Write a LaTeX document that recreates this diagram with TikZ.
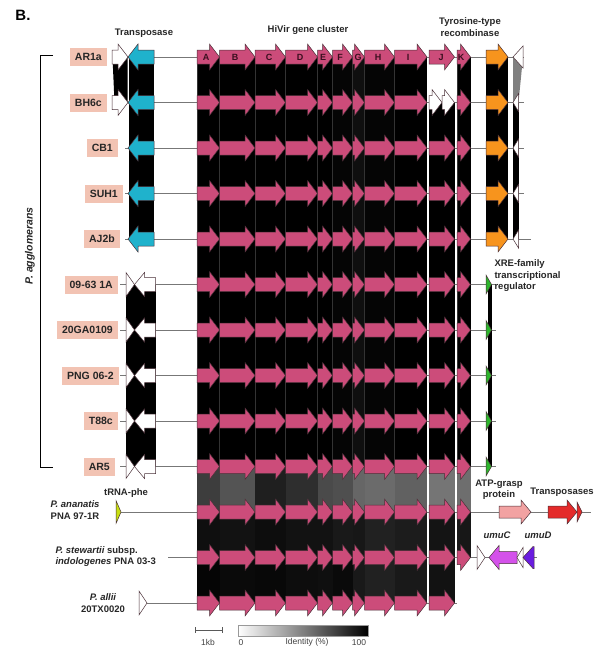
\documentclass[tikz,border=0pt]{standalone}
\usepackage{fontspec}
\setmainfont{Liberation Sans}
\definecolor{pinkc}{HTML}{CC4C7A}
\definecolor{cyanc}{HTML}{1FB2CC}
\definecolor{orangec}{HTML}{F7941D}
\definecolor{greenc}{HTML}{2DB52D}
\definecolor{salmon}{HTML}{F2C3B3}
\definecolor{linec}{HTML}{777777}
\definecolor{outl}{HTML}{4A3038}
\definecolor{atpc}{HTML}{F2A2A2}
\definecolor{redc}{HTML}{E42A2A}
\definecolor{umucc}{HTML}{D452EA}
\definecolor{umudc}{HTML}{6A1CE0}
\definecolor{trnac}{HTML}{C8E012}
\definecolor{lettc}{HTML}{3A0F1F}
\newcommand{\RA}[6]{%
 \pgfmathsetmacro\gHL{min(10,#2-#1)}\pgfmathsetmacro\gXB{#2-\gHL}%
 \filldraw[garrow,fill=#4] (#1,#3-#6) -- (\gXB,#3-#6) -- (\gXB,#3-#5) -- (#2,#3) -- (\gXB,#3+#5) -- (\gXB,#3+#6) -- (#1,#3+#6) -- cycle;}
\newcommand{\LA}[6]{%
 \pgfmathsetmacro\gHL{min(10,#2-#1)}\pgfmathsetmacro\gXB{#1+\gHL}%
 \filldraw[garrow,fill=#4] (#2,#3-#6) -- (\gXB,#3-#6) -- (\gXB,#3-#5) -- (#1,#3) -- (\gXB,#3+#5) -- (\gXB,#3+#6) -- (#2,#3+#6) -- cycle;}
\tikzset{
 garrow/.style={draw=outl,line width=0.5pt},
 backbone/.style={draw=linec,line width=0.8pt},
 lab/.style={fill=salmon,font=\bfseries\fontsize{10.5}{12}\selectfont,inner xsep=5pt,minimum height=18pt,anchor=east,text=black!85},
 head/.style={font=\bfseries\fontsize{9.5}{11.5}\selectfont,text=black!85,align=center},
 spec/.style={font=\bfseries\fontsize{9.5}{11.5}\selectfont,text=black!85},
 lett/.style={font=\bfseries\fontsize{9}{10}\selectfont,text=lettc},
 leg/.style={font=\fontsize{8.5}{9.5}\selectfont,text=black!75}
}
\begin{document}
\begin{tikzpicture}[x=1pt,y=-1pt]
\useasboundingbox (0,0) rectangle (603,648);
% ---------- backbones
\foreach \y in {57,102.5}{\draw[backbone] (112,\y) -- (524,\y);}
\foreach \y in {148,193.5}{\draw[backbone] (125,\y) -- (524,\y);}
\draw[backbone] (125,239) -- (531,239);
\foreach \y in {284.5,330,375.5,421,466.5}{\draw[backbone] (120,\y) -- (496,\y);}
\draw[backbone] (121,512) -- (591,512);
\draw[backbone] (168,557.5) -- (537,557.5);
\draw[backbone] (147,603) -- (457,603);
% ---------- identity bands, P. agglomerans
\foreach \ya/\yb in {57/102.5,102.5/148,148/193.5,193.5/239,239/284.5,284.5/330,330/375.5,375.5/421,421/466.5}{
 \foreach \a/\b/\c in {197/219.5/100,219.5/255/100,255/285.5/100,285.5/317.5/100,317.5/332.5/100,332.5/352.5/98,352.5/364.5/94,364.5/394.5/98,394.5/427/100,457/470.5/100}{
  \fill[black!\c] (\a,\ya) rectangle (\b,\yb);
  \draw[black!80,line width=0.3pt] (\a,\ya) -- (\a,\yb);}
}
\foreach \ya/\yb in {102.5/148,148/193.5,193.5/239,239/284.5,284.5/330,330/375.5,375.5/421,421/466.5}{
 \fill[black] (429,\ya) rectangle (454.5,\yb);}
% lower bands
\foreach \a/\b/\c in {197/219.5/76,219.5/255/67,255/285.5/88,285.5/317.5/82,317.5/332.5/71,332.5/352.5/69,352.5/364.5/60,364.5/394.5/58,394.5/427/62,429/454.5/54,457/470.5/57}{
 \fill[black!\c] (\a,466.5) rectangle (\b,512);}
\foreach \a/\b/\c in {197/219.5/94,219.5/255/93,255/285.5/95,285.5/317.5/93,317.5/332.5/93,332.5/352.5/90,352.5/364.5/91,364.5/394.5/87,394.5/427/89,429/454.5/92,457/470.5/91}{
 \fill[black!\c] (\a,512) rectangle (\b,557.5);}
\foreach \a/\b/\c in {197/219.5/98,219.5/255/96,255/285.5/97,285.5/317.5/95,317.5/332.5/94,332.5/352.5/96,352.5/364.5/90,364.5/394.5/87,394.5/427/90,429/454.5/93}{
 \fill[black!\c] (\a,557.5) rectangle (\b,603);}
% transposase bands
\fill[black] (112.5,57) -- (127.5,57) -- (127.5,102.5) -- (114.5,102.5) -- cycle;
\foreach \ya/\yb in {57/102.5,102.5/148,148/193.5,193.5/239}{\fill[black] (129,\ya) rectangle (154,\yb);}
\foreach \ya/\yb in {284.5/330,330/375.5,375.5/421,421/466.5}{\fill[black] (126,\ya) rectangle (155.5,\yb);}
% orange / right bands
\foreach \ya/\yb in {57/102.5,102.5/148,148/193.5,193.5/239}{\fill[black] (486,\ya) rectangle (508,\yb);}
\fill[black!50] (513,57) -- (523,57) -- (518.5,102.5) -- (513,102.5) -- cycle;
\foreach \ya/\yb in {102.5/148,148/193.5,193.5/239}{\fill[black] (513,\ya) rectangle (518.5,\yb);}
\foreach \ya/\yb in {284.5/330,330/375.5,375.5/421,421/466.5}{\fill[black] (487.5,\ya) rectangle (491.5,\yb);}
% ---------- gene arrows
\foreach \y in {57,102.5,148,193.5,239,284.5,330,375.5,421,466.5,512,557.5,603}{
 \foreach \a/\b in {197/219.5,219.5/255,255/285.5,285.5/317.5,317.5/332.5,332.5/352.5,352.5/364.5,364.5/394.5,394.5/427}{
  \RA{\a}{\b}{\y}{pinkc}{13}{7}}
}
\foreach \y in {57,148,193.5,239,284.5,330,375.5,421,466.5,512,557.5,603}{\RA{429}{454.5}{\y}{pinkc}{13}{7}}
\foreach \y in {57,102.5,148,193.5,239,284.5,330,375.5,421,466.5,512,557.5}{\RA{457}{470.5}{\y}{pinkc}{13}{7}}
\RA{429}{442}{102.5}{white}{13}{7}
\RA{442}{454.5}{102.5}{white}{13}{7}
% transposase
\foreach \y in {57,102.5}{\RA{112}{128}{\y}{white}{13}{7}}
\foreach \y in {57,102.5,148,193.5,239}{\LA{128}{154}{\y}{cyanc}{13}{7}}
\foreach \y in {284.5,330,375.5,421,466.5}{\RA{126}{134.5}{\y}{white}{12}{12}\LA{134.5}{155.5}{\y}{white}{12}{7}}
% recombinase and right
\foreach \y in {57,102.5,148,193.5,239}{\RA{486}{508}{\y}{orangec}{13}{7}}
\LA{513}{523}{57}{white}{11}{11}
\foreach \y in {102.5,148,193.5,239}{\LA{513}{518.5}{\y}{white}{9}{9}}
\foreach \y in {284.5,330,375.5,421,466.5}{\RA{486}{491.5}{\y}{greenc}{9.5}{9.5}}
% other species
\RA{116}{121}{512}{trnac}{11.5}{11.5}
\RA{499}{531}{512}{atpc}{12}{6}
\RA{548}{577}{512}{redc}{12}{6}
\RA{577}{582}{512}{redc}{10}{10}
\RA{477}{485}{557.5}{white}{12}{12}
\LA{489}{517}{557.5}{umucc}{12}{6}
\LA{517}{523}{557.5}{white}{10}{10}
\LA{523}{534}{557.5}{umudc}{11}{11}
\RA{139}{147}{603}{white}{12}{12}
% letters
\foreach \x/\t in {206/A,235/B,269/C,300/D,323/E,340/F,358/G,378/H,408/I,441/J,461/K}{\node[lett] (l\t) at (\x,57) {\t};}
% ---------- labels
\node[lab] (ar1a) at (107,57) {AR1a};
\node[lab] (bh6c) at (107,102.5) {BH6c};
\node[lab] (cb1) at (118,148) {CB1};
\node[lab] (suh1) at (123,193.5) {SUH1};
\node[lab] (aj2b) at (120,239) {AJ2b};
\node[lab] (s0963) at (118,284.5) {09-63 1A};
\node[lab] (s20ga) at (118,330) {20GA0109};
\node[lab] (png) at (119,375.5) {PNG 06-2};
\node[lab] (t88c) at (118,421) {T88c};
\node[lab] (ar5) at (115,466.5) {AR5};
% bracket
\draw[black,line width=1pt] (53,55) -- (40,55) -- (40,467) -- (53,467);
\node[font=\bfseries\fontsize{10.5}{12}\selectfont,text=black!85,rotate=90] (pagg) at (30,246) {\itshape P. agglomerans};
% species labels
\node[spec,align=center] (anan) at (75,510) {\itshape P. ananatis\\PNA 97-1R};
\node[spec,align=left,anchor=west] (stew) at (52,556.5) {\itshape P. stewartii\upshape{} subsp.\\\itshape indologenes\upshape{} PNA 03-3};
\node[spec,align=center] (allii) at (103,603) {\itshape P. allii\\20TX0020};
% headers
\node[font=\bfseries\fontsize{15}{16}\selectfont] (panel) at (23,15) {B.};
\node[head] (htrans) at (144,33) {Transposase};
\node[head] (hhivir) at (308,30) {HiVir gene cluster};
\node[head] (hrec) at (470,27) {Tyrosine-type\\recombinase};
\node[head,align=left,anchor=west] (hxre) at (491,276) {XRE-family\\transcriptional\\regulator};
\node[head] (htrna) at (126,493) {tRNA-phe};
\node[head] (hatp) at (499,489.5) {ATP-grasp\\protein};
\node[head] (htp) at (562,492) {Transposases};
\node[head] (humuc) at (497,535) {\itshape umuC};
\node[head] (humud) at (538,535) {\itshape umuD};
% legend
\draw[black!65,line width=0.8pt] (195,630) -- (222,630);
\draw[black!65,line width=0.8pt] (195,627) -- (195,633);
\draw[black!65,line width=0.8pt] (222,627) -- (222,633);
\node[leg] (kb) at (208,642.5) {1kb};
\shade[left color=white,right color=black,draw=black!40,line width=0.4pt] (238,625) rectangle (368,636);
\node[leg] (l0) at (241,642.5) {0};
\node[leg] (lid) at (307,642.5) {Identity (\%)};
\node[leg] (l100) at (359,642.5) {100};
\end{tikzpicture}
\end{document}
